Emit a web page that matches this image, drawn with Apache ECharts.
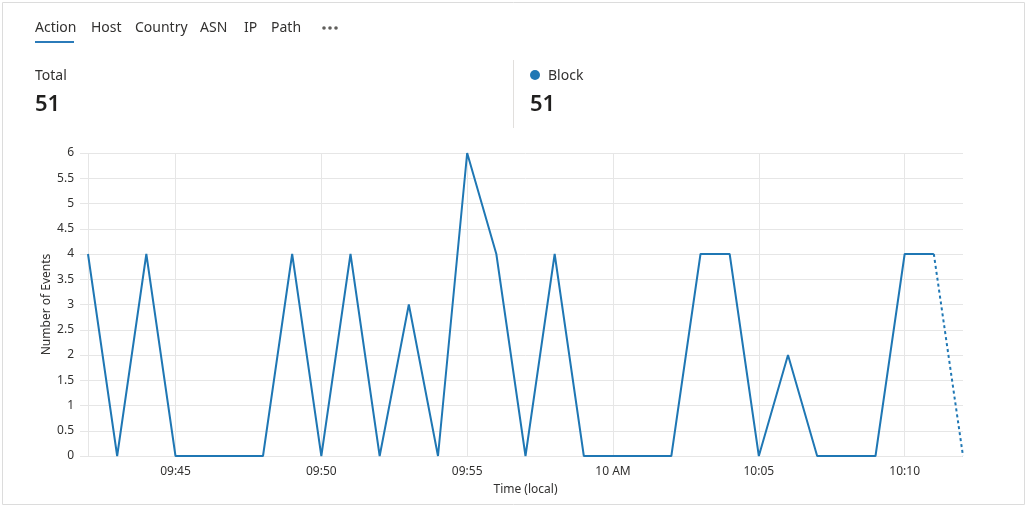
<!DOCTYPE html>
<html><head><meta charset="utf-8">
<script src="https://cdn.jsdelivr.net/npm/echarts@6/dist/echarts.min.js"></script>
<style>
html,body{margin:0;padding:0;background:#fff;}
#c{width:1027px;height:507px;}
</style></head>
<body><div id="c"></div>
<script>
const times = ['09:42','09:43','09:44','09:45','09:46','09:47','09:48','09:49','09:50','09:51','09:52','09:53','09:54','09:55','09:56','09:57','09:58','09:59','10:00','10:01','10:02','10:03','10:04','10:05','10:06','10:07','10:08','10:09','10:10','10:11','10:12'];
const blockCounts = [4,0,4,0,0,0,0,4,0,4,0,3,0,6,4,0,4,0,0,0,0,4,4,0,2,0,0,0,4,4,0];
const tickLabels = {'09:45':'09:45','09:50':'09:50','09:55':'09:55','10:00':'10 AM','10:05':'10:05','10:10':'10:10'};
const tabs = ['Action','Host','Country','ASN','IP','Path'];
const totalValue = 51;
const seriesName = 'Block';

const FONT = '"Segoe UI","Noto Sans","Open Sans",sans-serif';
const BLUE = '#1f77b4';
const last = blockCounts.length - 1;
const solidData = blockCounts.map((v,i)=> i < last ? v : null);
const dashedData = blockCounts.map((v,i)=> i >= last-1 ? v : null);

const tabX = [35, 91, 135, 200, 244, 271];
const graphics = [
  {type:'rect', shape:{x:2.5,y:2.5,width:1022,height:502}, style:{fill:'none',stroke:'#dcdcdc',lineWidth:1}, silent:true},
  {type:'rect', shape:{x:35,y:41,width:39,height:2}, style:{fill:'#2b7bb9'}},
  {type:'circle', shape:{cx:324,cy:28,r:1.8}, style:{fill:'#605e5c'}},
  {type:'circle', shape:{cx:330,cy:28,r:1.8}, style:{fill:'#605e5c'}},
  {type:'circle', shape:{cx:336,cy:28,r:1.8}, style:{fill:'#605e5c'}},
  {type:'text', x:35, y:69, style:{text:'Total', font:'14px '+FONT, fill:'#323130'}},
  {type:'text', x:35, y:94, style:{text:String(totalValue), font:'600 22px '+FONT, fill:'#201f1e'}},
  {type:'rect', shape:{x:513,y:60,width:1,height:68}, style:{fill:'#e1dfdd'}},
  {type:'circle', shape:{cx:535,cy:75,r:5}, style:{fill:BLUE}},
  {type:'text', x:548, y:69, style:{text:seriesName, font:'14px '+FONT, fill:'#323130'}},
  {type:'text', x:530, y:94, style:{text:String(totalValue), font:'600 22px '+FONT, fill:'#201f1e'}}
];
tabs.forEach((t,i)=>{
  graphics.push({type:'text', x:tabX[i], y:21, style:{text:t, font:'14px '+FONT, fill:'#323130'}});
});

const chart = echarts.init(document.getElementById('c'));
chart.setOption({
  animation:false,
  graphic: graphics,
  grid:{left:88, right:64, top:153, bottom:51, containLabel:false},
  xAxis:{
    type:'category', data:times, boundaryGap:false,
    name:'Time (local)', nameLocation:'middle', nameGap:28,
    nameTextStyle:{fontFamily:FONT, fontSize:12, color:'#323130'},
    axisLine:{show:false}, axisTick:{show:false},
    axisLabel:{fontFamily:FONT, fontSize:12, color:'#323130', margin:10,
      interval:(i,v)=> tickLabels[v] !== undefined,
      formatter:(v)=> tickLabels[v] || ''},
    splitLine:{show:true, interval:(i,v)=> i===0 || tickLabels[v] !== undefined, lineStyle:{color:'#e6e6e6', width:1}}
  },
  yAxis:{
    type:'value', min:0, max:6, interval:0.5,
    name:'Number of Events', nameLocation:'middle', nameGap:35, nameRotate:90,
    nameMoveOverlap:false,
    nameTextStyle:{fontFamily:FONT, fontSize:12, color:'#323130'},
    axisLine:{show:false},
    axisTick:{show:true, length:8, lineStyle:{color:'#e6e6e6'}},
    axisLabel:{fontFamily:FONT, fontSize:12, color:'#323130', margin:14},
    splitLine:{lineStyle:{color:'#e6e6e6', width:1}}
  },
  series:[
    {name:seriesName, type:'line', data:solidData, showSymbol:false, connectNulls:false,
      lineStyle:{color:BLUE, width:2}, itemStyle:{color:BLUE}},
    {name:seriesName+' (partial)', type:'line', data:dashedData, showSymbol:false,
      lineStyle:{color:BLUE, width:2, type:[3,3]}, itemStyle:{color:BLUE}}
  ]
});
</script></body></html>
